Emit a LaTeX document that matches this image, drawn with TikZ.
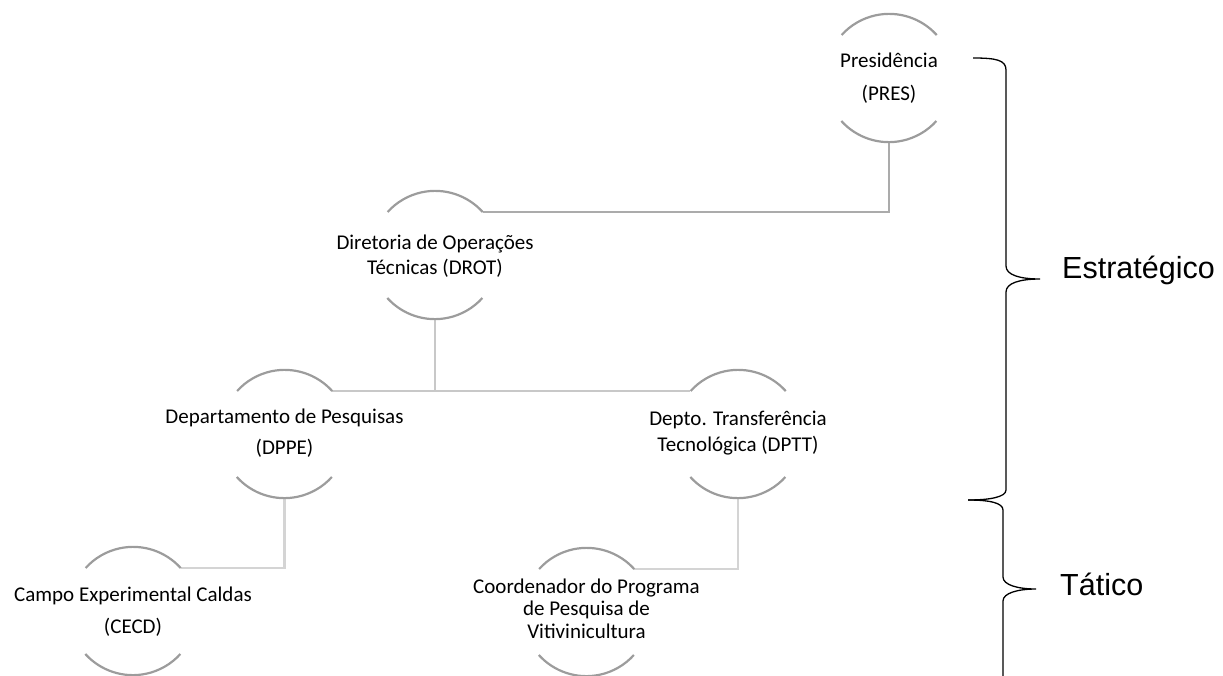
\documentclass[tikz,border=0pt]{standalone}
\usepackage{fontspec}
\newfontfamily\bodyfont{Carlito}
\newfontfamily\levelfont{Liberation Sans}
\usetikzlibrary{calc}

\definecolor{ringgray}{HTML}{9C9C9C}
\definecolor{linkA}{HTML}{ABABAB}
\definecolor{linkB}{HTML}{C8C8C8}
\definecolor{linkC}{HTML}{D4D4D4}

\tikzset{
  unit/.style={circle, draw=none, minimum size=128pt, inner sep=0pt},
  ring/.style={draw=ringgray, line width=2.2pt},
  lbl/.style={font=\bodyfont\fontsize{21}{25}\selectfont, inner sep=0pt, anchor=base},
  level/.style={font=\levelfont\fontsize{30.5}{36}\selectfont, inner sep=0pt, anchor=base west},
  linkpres/.style={draw=linkA, line width=2.4pt},
  linkmid/.style={draw=linkB, line width=2.4pt},
  linklow/.style={draw=linkC, line width=2.4pt},
  brace/.style={draw=black, line width=1.3pt}
}

% a unit: open ring made of a top and a bottom arc
\newcommand\halfrings[1]{%
  \draw[ring] (#1.42) arc[start angle=42, end angle=138, radius=64pt];
  \draw[ring] (#1.222) arc[start angle=222, end angle=318, radius=64pt];
}

\begin{document}
\begin{tikzpicture}[x=1pt, y=-1pt]
\useasboundingbox (0,0) rectangle (1223,675);

% units
\node[unit] (pres)  at (889,78)   {};
\node[unit] (drot)  at (435,255)  {};
\node[unit] (dppe)  at (284.5,434) {};
\node[unit] (dptt)  at (738,434)  {};
\node[unit] (cecd)  at (133,611)  {};
\node[unit] (coord) at (586.5,612) {};

% connectors
\draw[linkpres] (pres.south) |- (drot.42);
\draw[linkmid] (drot.south) -- (drot.south |- dppe.42);
\draw[linkmid] (dppe.42) -- (dptt.138);
\draw[linklow] (dppe.south) |- (cecd.42);
\draw[linklow] (dptt.south) |- (coord.42);

% rings
\halfrings{pres}
\halfrings{drot}
\halfrings{dppe}
\halfrings{dptt}
\halfrings{cecd}
\halfrings{coord}

% labels
\node[lbl] (pres-a) at (889,67)  {Presidência};
\node[lbl] (pres-b) at (889,100) {(PRES)};
\node[lbl] (drot-a) at (435,249) {Diretoria de Operações};
\node[lbl] (drot-b) at (435,274) {Técnicas (DROT)};
\node[lbl] (dppe-a) at (284.5,423) {Departamento de Pesquisas};
\node[lbl] (dppe-b) at (284.5,454) {(DPPE)};
\node[lbl] (dptt-a) at (738,425) {Depto. Transferência};
\node[lbl] (dptt-b) at (738,451) {Tecnológica (DPTT)};
\node[lbl] (cecd-a) at (133,601) {Campo Experimental Caldas};
\node[lbl] (cecd-b) at (133,633) {(CECD)};
\node[lbl] (coord-a) at (586.5,593) {Coordenador do Programa};
\node[lbl] (coord-b) at (586.5,615) {de Pesquisa de};
\node[lbl] (coord-c) at (586.5,638) {Vitivinicultura};

% level braces
\coordinate (b1top) at (973,58);
\coordinate (b1tip) at (1040,279);
\coordinate (b1bot) at (968,500);
\coordinate (b2tip) at (1036,589);
\coordinate (b2bot) at (1003,680);

\draw[brace] (b1top) .. controls (996,58) and (1006,60) .. (1006,70)
  -- (1006,266) .. controls (1006,275) and (1020,279) .. (b1tip)
  .. controls (1020,279) and (1006,283) .. (1006,292)
  -- (1006,490) .. controls (1006,497) and (990,500) .. (b1bot);
\draw[brace] (b1bot) .. controls (990,500) and (1003,503) .. (1003,510)
  -- (1003,577) .. controls (1003,585) and (1018,589) .. (b2tip)
  .. controls (1018,589) and (1003,593) .. (1003,601)
  -- (b2bot);

\node[level] (lvl-est) at (1062,278) {Estratégico};
\node[level] (lvl-tat) at (1060,595) {Tático};
\end{tikzpicture}
\end{document}
